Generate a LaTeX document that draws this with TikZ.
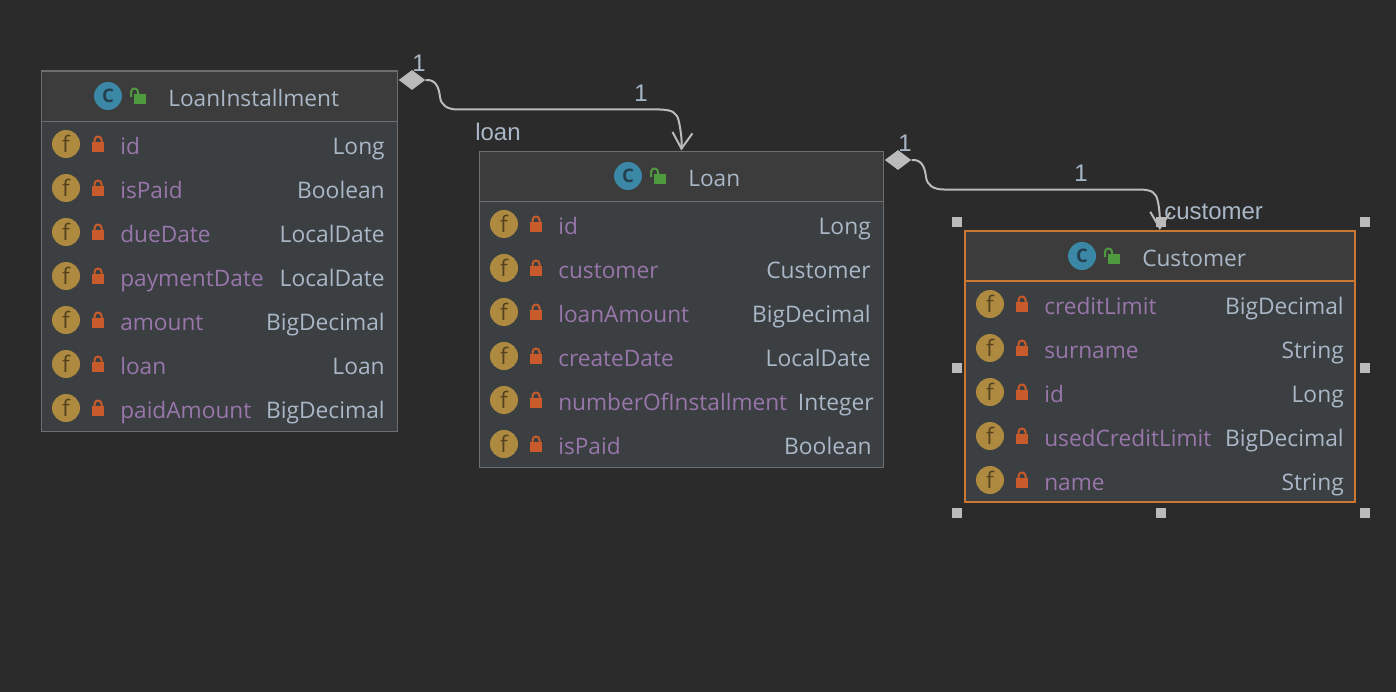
\documentclass[tikz,border=0pt]{standalone}
\usepackage{fontspec}
\setmainfont{Open Sans}
\newfontfamily\linkfont{Liberation Sans}
\usetikzlibrary{arrows.meta,shapes.geometric}
\definecolor{bgdark}{HTML}{2B2B2B}
\definecolor{headfill}{HTML}{3C3C3C}
\definecolor{bodyfill}{HTML}{3B3F42}
\definecolor{edgegray}{HTML}{6E6E6E}
\definecolor{txtblue}{HTML}{A9B7C6}
\definecolor{txtpurple}{HTML}{9876AA}
\definecolor{gold}{HTML}{AD8A3F}
\definecolor{golddark}{HTML}{54421F}
\definecolor{teal}{HTML}{3B87A6}
\definecolor{tealdark}{HTML}{24404F}
\definecolor{lockred}{HTML}{C75B2C}
\definecolor{lockgreen}{HTML}{4F9A3F}
\definecolor{linkgray}{HTML}{BBBBBB}
\definecolor{selorange}{HTML}{CC7832}
\tikzset{
  headbox/.style={draw=#1,fill=headfill,line width=1.2pt,anchor=north west,inner sep=0pt,minimum height=37.5pt},
  bodybox/.style={draw=#1,fill=bodyfill,line width=1.2pt,anchor=north west,inner sep=0pt},
  fieldicon/.style={circle,fill=gold,inner sep=0pt,minimum size=21pt,text=golddark,font=\fontsize{17}{17}\selectfont},
  classicon/.style={circle,fill=teal,inner sep=0pt,minimum size=21pt,text=tealdark,font=\fontsize{14}{14}\selectfont\bfseries},
  classname/.style={anchor=base west,inner sep=0pt,text=txtblue,font=\fontsize{17}{17}\selectfont},
  fieldname/.style={anchor=base west,inner sep=0pt,text=txtpurple,font=\fontsize{17}{17}\selectfont},
  typename/.style={anchor=base east,inner sep=0pt,text=txtblue,font=\fontsize{17.1}{17.1}\selectfont},
  linklabel/.style={inner sep=0pt,text=txtblue,font=\linkfont\fontsize{18}{18}\selectfont},
  diamondend/.style={diamond,fill=linkgray,inner sep=0pt,minimum width=20pt,minimum height=15pt,aspect=1.35},
  handle/.style={rectangle,fill=linkgray,inner sep=0pt,minimum size=7.5pt},
  link/.style={draw=linkgray,line width=1.5pt,-{Straight Barb[length=12pt,width=15pt,line width=1.5pt]}},
  lockshut/.pic={
    \draw[lockred,line width=1.5pt] (-3.5,-1) -- (-3.5,-4) arc (180:360:3.5) -- (3.5,-1);
    \fill[lockred] (-6,-2) rectangle (6,8);},
  lockopen/.pic={
    \draw[lockgreen,line width=1.5pt] (-7,1) -- (-7,-4) arc (180:360:3.5) -- (0,-2);
    \fill[lockgreen] (-4,-2) rectangle (8,8);},
}
\begin{document}
\begin{tikzpicture}[x=0.75pt,y=-0.75pt]
\fill[bgdark] (0,0) rectangle (1396,692);
\useasboundingbox (0,0) rectangle (1396,692);
% class boxes
\node[bodybox=edgegray,minimum width=267pt,minimum height=232.5pt] (installbody) at (40.5,120.5) {};
\node[headbox=edgegray,minimum width=267pt] (installhead) at (40.5,70.5) {};
\node[bodybox=edgegray,minimum width=303pt,minimum height=199.5pt] (loanbody) at (478.5,200.5) {};
\node[headbox=edgegray,minimum width=303pt] (loanhead) at (478.5,150.5) {};
\node[bodybox=selorange,line width=1.5pt,minimum width=292.5pt,minimum height=166pt] (custbody) at (963.8,280) {};
\node[headbox=selorange,line width=1.5pt,minimum width=292.5pt] (custhead) at (963.8,230) {};
% titles
\foreach \k/\x/\y/\t in {install/108/96/LoanInstallment,loan/628/176/Loan,cust/1082/256/Customer}{
  \node[classicon] (\k-icon) at (\x,\y) {C};
  \pic at (\x+30,\y) {lockopen};
  \node[classname] (\k-title) at (\x+60,\y+10.5) {\t};
}
% rows
\foreach \i/\n/\t in {0/id/Long,1/isPaid/Boolean,2/dueDate/LocalDate,3/paymentDate/LocalDate,4/amount/BigDecimal,5/loan/Loan,6/paidAmount/BigDecimal}{
  \node[fieldicon] (install-\i) at (66,144+44*\i) {f};
  \pic at (98,144+44*\i) {lockshut};
  \node[fieldname] (install-\n) at (120,154+44*\i) {\n};
  \node[typename] (install-\n-type) at (385,154+44*\i) {\t};
}
\foreach \i/\n/\t/\r in {0/id/Long/871,1/customer/Customer/871,2/loanAmount/BigDecimal/871,3/createDate/LocalDate/871,4/numberOfInstallment/Integer/874,5/isPaid/Boolean/872}{
  \node[fieldicon] (loan-\i) at (504,224+44*\i) {f};
  \pic at (536,224+44*\i) {lockshut};
  \node[fieldname] (loan-\n) at (558,234+44*\i) {\n};
  \node[typename] (loan-\n-type) at (\r,234+44*\i) {\t};
}
\foreach \i/\n/\t in {0/creditLimit/BigDecimal,1/surname/String,2/id/Long,3/usedCreditLimit/BigDecimal,4/name/String}{
  \node[fieldicon] (cust-\i) at (990,304+44*\i) {f};
  \pic at (1022,304+44*\i) {lockshut};
  \node[fieldname] (cust-\n) at (1044,314+44*\i) {\n};
  \node[typename] (cust-\n-type) at (1344,314+44*\i) {\t};
}
% links
\node[diamondend] (loandia) at (412,80) {};
\node[diamondend] (custdia) at (898,160) {};
\draw[link] (loandia.east) .. controls (436,79) and (439,88) .. (440,97)
  .. controls (441,105) and (447,109.5) .. (458,109.5) -- (660,109.5)
  .. controls (672,110) and (677,112) .. (679,122)
  .. controls (681,132) and (682,140) .. (loanhead.north);
\draw[link] (custdia.east) .. controls (922,159) and (925,168) .. (926,177)
  .. controls (927,185) and (933,189.5) .. (944,189.5) -- (1140,189.5)
  .. controls (1152,190) and (1156,192) .. (1158,202)
  .. controls (1160,212) and (1160,222) .. (custhead.north);
\node[linklabel] (loanone) at (419,63) {1};
\node[linklabel] (loantop) at (641,93) {1};
\node[linklabel,anchor=west] (loanrole) at (475,132) {loan};
\node[linklabel] (custone) at (905,143) {1};
\node[linklabel] (custtop) at (1081,173) {1};
\node[linklabel,anchor=west] (custrole) at (1164,212) {customer};
% selection handles
\foreach \x/\y in {957/222,1161/222,1365/222,957/368,1365/368,957/513,1161/513,1365/513}{
  \node[handle] (h\x-\y) at (\x,\y) {};
}
\end{tikzpicture}
\end{document}
